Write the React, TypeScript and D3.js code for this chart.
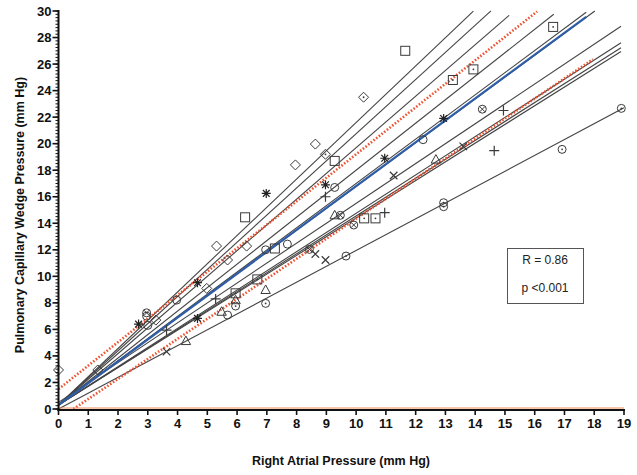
import * as d3 from "d3";

// regression lines: [intercept, slope, xEnd]
const patientLines: [number, number, number][] = [
  [0.3, 2.13, 13.94],
  [0.3, 2.045, 14.53],
  [0.3, 1.94, 15.14],
  [0.3, 1.77, 16.64],
  [0.3, 1.67, 17.73],
  [0.3, 1.648, 18.02],
  [0.5, 1.5, 18.9],
  [0.3, 1.445, 18.9],
  [0.3, 1.425, 18.9],
  [0.3, 1.41, 18.9],
  [0.0, 1.195, 19],
];
const meanLine: [number, number, number] = [0.3, 1.65, 17.73];
const upperBand: [number, number, number, number] = [0, 1.5, 1.77, 16.08];
const lowerBand: [number, number, number, number] = [0.5, -0.755, 1.51, 17.96];

// points per marker
const circles = [[2.96, 7.0], [3.0, 6.3], [3.97, 8.21], [5.68, 7.08], [6.96, 12.0], [7.69, 12.43], [9.28, 16.7], [12.25, 20.3]];
const circleDots = [[5.95, 7.76], [6.96, 7.96], [9.66, 11.53], [12.94, 15.55], [12.94, 15.25], [16.92, 19.57], [18.91, 22.66]];
const circleXs = [[9.47, 14.6], [9.92, 13.87], [8.43, 12.03], [14.24, 22.6], [2.96, 7.25]];
const squares = [[6.27, 14.45], [7.27, 12.1], [9.28, 18.7], [11.65, 27.0]];
const squareDots = [[5.95, 8.72], [6.68, 9.77], [10.27, 14.37], [10.65, 14.37], [13.25, 24.8], [13.94, 25.6], [16.62, 28.8]];
const diamonds = [[0, 2.94], [1.32, 2.94], [3.27, 6.7], [4.98, 9.09], [5.31, 12.28], [5.68, 11.23], [6.32, 12.28], [7.96, 18.4], [8.63, 19.97]];
const diamondDots = [[8.97, 19.2], [10.25, 23.5]];
const triangles = [[4.28, 5.12], [5.48, 7.33], [5.95, 8.2], [6.96, 8.97], [9.28, 14.6], [12.68, 18.8]];
const asterisks = [[2.69, 6.4], [4.67, 9.52], [4.67, 6.83], [6.98, 16.25], [8.97, 16.9], [10.96, 18.9], [12.94, 21.9]];
const pluses = [[3.63, 5.95], [5.28, 8.3], [8.97, 16.0], [10.96, 14.8], [14.95, 22.5], [14.64, 19.47]];
const crosses = [[3.63, 4.32], [8.63, 11.68], [8.97, 11.23], [11.26, 17.6], [13.6, 19.8]];

const xTicks = d3.range(0, 20);
const yTicks = d3.range(0, 31, 2);
const yMinor = d3.range(0, 30.01, 0.25);

const W = 637, H = 475;
const ink = "#3a3a3a";

const x = d3.scaleLinear().domain([0, 19]).range([58.5, 624]);
const y = d3.scaleLinear().domain([0, 30]).range([409, 11]);

const plus = (r: number) => `M${-r},0H${r}M0,${-r}V${r}`;
const times = (r: number) => { const a = r * 0.75; return `M${-a},${-a}L${a},${a}M${-a},${a}L${a},${-a}`; };

const Marker = ({ kind, px, py }: { kind: string; px: number; py: number }) => {
  const t = `translate(${px},${py})`;
  const common = { fill: "none", stroke: ink, strokeWidth: 1 };
  const dot = <circle r={0.9} fill={ink} />;
  switch (kind) {
    case "circle": return <g transform={t}><circle r={4} {...common} /></g>;
    case "circleDot": return <g transform={t}><circle r={4} {...common} />{dot}</g>;
    case "circleX": return <g transform={t}><circle r={4} {...common} /><path d={times(3.6)} {...common} /></g>;
    case "square": return <g transform={t}><rect x={-4.5} y={-4.5} width={9} height={9} {...common} /></g>;
    case "squareDot": return <g transform={t}><rect x={-4.5} y={-4.5} width={9} height={9} {...common} />{dot}</g>;
    case "diamond": return <g transform={t}><path d="M0,-5L5,0L0,5L-5,0Z" {...common} /></g>;
    case "diamondDot": return <g transform={t}><path d="M0,-5L5,0L0,5L-5,0Z" {...common} />{dot}</g>;
    case "triangle": return <g transform={t}><path d="M0,-5L4.7,3.5L-4.7,3.5Z" {...common} /></g>;
    case "asterisk": return <g transform={t}><path d={plus(4.5) + times(4.5)} fill="none" stroke="#222" strokeWidth={1.2} /></g>;
    case "plus": return <g transform={t}><path d={plus(5)} {...common} strokeWidth={1.2} /></g>;
    default: return <g transform={t}><path d={times(5)} {...common} strokeWidth={1.2} /></g>;
  }
};

const groups: [string, number[][]][] = [
  ["circle", circles], ["circleDot", circleDots], ["circleX", circleXs],
  ["square", squares], ["squareDot", squareDots], ["diamond", diamonds],
  ["diamondDot", diamondDots], ["triangle", triangles], ["asterisk", asterisks],
  ["plus", pluses], ["cross", crosses],
];

const App = () => {
  const line = d3.line<number[]>().x(d => x(d[0])).y(d => y(d[1]));
  const seg = (a: number, b: number, x0: number, x1: number) => line([[x0, a + b * x0], [x1, a + b * x1]]) || "";
  return (
    <svg width={W} height={H} style={{ position: "absolute", left: 0, top: 0, background: "#fff" }}
      fontFamily="'Liberation Sans', Arial, sans-serif">
      {/* patient regression lines */}
      {patientLines.map(([a, b, xe], i) => (
        <path key={i} d={seg(a, b, 0, xe)} stroke="#444" strokeWidth={1.1} fill="none" />
      ))}
      {/* confidence bands */}
      <path d={seg(upperBand[1], upperBand[2], upperBand[0], upperBand[3])} stroke="#ec5534" strokeWidth={2.6} strokeDasharray="1.6,1.8" fill="none" />
      <path d={seg(lowerBand[1], lowerBand[2], lowerBand[0], lowerBand[3])} stroke="#ec5534" strokeWidth={2.6} strokeDasharray="1.6,1.8" fill="none" />
      {/* overall line */}
      <path d={seg(meanLine[0], meanLine[1], 0, meanLine[2])} stroke="#2f5ea8" strokeWidth={2.2} fill="none" />
      {/* markers */}
      {groups.map(([kind, pts]) => pts.map((p, i) => (
        <Marker key={kind + i} kind={kind} px={x(p[0])} py={y(p[1])} />
      )))}
      {/* axes */}
      <line x1={x(0)} x2={x(19)} y1={y(0) - 1} y2={y(0) - 1} stroke="#f08a5d" strokeWidth={1} />
      <line x1={x(0) - 1} x2={x(19) + 1} y1={y(0) + 1} y2={y(0) + 1} stroke="#111" strokeWidth={2} />
      <line x1={x(0)} x2={x(0)} y1={y(30) - 1} y2={y(0) + 2} stroke="#111" strokeWidth={2} />
      {xTicks.map(t => (
        <g key={t} transform={`translate(${x(t)},${y(0)})`}>
          <line y1={1} y2={6} stroke="#111" strokeWidth={1.6} />
          <text y={19} textAnchor="middle" fontSize={13} fontWeight="bold" fill="#111">{t}</text>
        </g>
      ))}
      {yMinor.map(t => (
        <line key={t} x1={x(0) - 3} x2={x(0)} y1={y(t)} y2={y(t)} stroke="#111" strokeWidth={1} />
      ))}
      {yTicks.map(t => (
        <g key={t} transform={`translate(${x(0)},${y(t)})`}>
          <line x1={-6} x2={0} stroke="#111" strokeWidth={1.6} />
          <text x={-7} dy="0.35em" textAnchor="end" fontSize={13} fontWeight="bold" fill="#111">{t}</text>
        </g>
      ))}
      <text x={341} y={465} textAnchor="middle" fontSize={12.5} fontWeight="bold" fill="#111">Right Atrial Pressure (mm Hg)</text>
      <text transform={`translate(24,${(y(0) + y(30)) / 2 + 5}) rotate(-90)`} textAnchor="middle" fontSize={12.5} fontWeight="bold" fill="#111">
        Pulmonary Capillary Wedge Pressure (mm Hg)
      </text>
      {/* stats box */}
      <rect x={507.5} y={248.5} width={76} height={55} fill="#fff" stroke="#555" strokeWidth={1} />
      <text x={545} y={264} textAnchor="middle" fontSize={12} fill="#222">R = 0.86</text>
      <text x={545} y={292} textAnchor="middle" fontSize={12} fill="#222">p &lt;0.001</text>
    </svg>
  );
};

export default App;
